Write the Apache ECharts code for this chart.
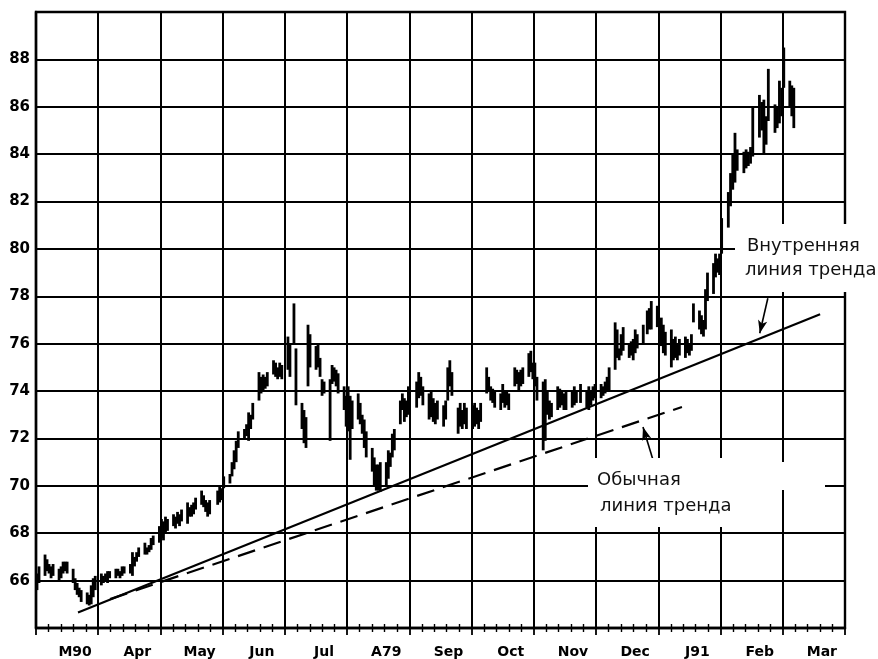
<!DOCTYPE html>
<html>
<head>
<meta charset="utf-8">
<title>Trend lines</title>
<script src="https://cdn.jsdelivr.net/npm/echarts@6/dist/echarts.min.js"></script>
<style>
  html, body { margin: 0; padding: 0; background: #fff; }
  #chart { width: 878px; height: 659px; }
</style>
</head>
<body>
<div id="chart"></div>
<script>
// month labels along the bottom, and month lengths used to place daily bars
const months = ['M90', 'Apr', 'May', 'Jun', 'Jul', 'A79', 'Sep', 'Oct', 'Nov', 'Dec', 'J91', 'Feb', 'Mar']
const monthDays = [31, 30, 31, 30, 31, 31, 30, 31, 30, 31, 31, 28, 31]

// daily bars per month: [day, low, high]
const mar90 = [[1, 65.6, 66.3], [2, 65.9, 66.6], [5, 66.2, 67.1], [6, 66.4, 66.9], [7, 66.3, 66.7], [8, 66.1, 66.6], [9, 66.2, 66.7], [12, 66.0, 66.5], [13, 66.1, 66.6], [14, 66.3, 66.8], [15, 66.4, 66.8], [16, 66.3, 66.8], [19, 65.9, 66.5], [20, 65.6, 66.1], [21, 65.4, 65.9], [22, 65.3, 65.7], [23, 65.1, 65.6], [26, 65.0, 65.5], [27, 64.95, 65.4], [28, 65.0, 65.8], [29, 65.3, 66.1], [30, 65.6, 66.2]]
const apr90 = [[2, 65.8, 66.3], [3, 65.9, 66.2], [4, 66.0, 66.3], [5, 65.9, 66.4], [6, 66.1, 66.4], [9, 66.1, 66.5], [10, 66.2, 66.5], [11, 66.1, 66.4], [12, 66.2, 66.6], [13, 66.3, 66.6], [16, 66.3, 66.7], [17, 66.2, 67.2], [18, 66.6, 67.0], [19, 66.8, 67.2], [20, 67.0, 67.4], [23, 67.1, 67.6], [24, 67.1, 67.4], [25, 67.2, 67.5], [26, 67.3, 67.8], [27, 67.5, 67.9], [30, 67.6, 68.3]]
const may90 = [[1, 67.8, 68.6], [2, 67.7, 68.5], [3, 68.0, 68.7], [4, 68.1, 68.6], [7, 68.3, 68.8], [8, 68.2, 68.7], [9, 68.4, 68.9], [10, 68.3, 68.8], [11, 68.5, 69.0], [14, 68.4, 69.3], [15, 68.7, 69.1], [16, 68.7, 69.2], [17, 68.8, 69.3], [18, 69.0, 69.5], [21, 69.2, 69.8], [22, 69.1, 69.6], [23, 68.9, 69.4], [24, 68.7, 69.3], [25, 68.8, 69.4], [29, 69.2, 69.8], [30, 69.3, 70.0], [31, 69.4, 69.9]]
const jun90 = [[1, 69.9, 70.4], [4, 70.1, 70.5], [5, 70.4, 71.0], [6, 70.7, 71.5], [7, 71.0, 71.9], [8, 71.6, 72.3], [11, 72.0, 72.4], [12, 72.1, 72.6], [13, 71.9, 73.1], [14, 72.4, 73.0], [15, 72.8, 73.5], [18, 73.6, 74.8], [19, 73.9, 74.6], [20, 74.0, 74.7], [21, 74.1, 74.6], [22, 74.2, 74.8], [25, 74.7, 75.3], [26, 74.6, 75.2], [27, 74.5, 75.0], [28, 74.6, 75.2], [29, 74.5, 75.1]]
const jul90 = [[2, 74.9, 76.3], [3, 74.6, 76.0], [5, 76.0, 77.7], [6, 73.4, 75.8], [9, 72.4, 73.5], [10, 71.8, 73.2], [11, 71.6, 72.9], [12, 74.2, 76.8], [13, 75.0, 76.4], [16, 74.9, 75.9], [17, 75.0, 76.0], [18, 74.6, 75.4], [19, 73.8, 74.5], [20, 73.9, 74.4], [23, 71.9, 74.5], [24, 74.3, 75.1], [25, 74.4, 75.0], [26, 74.2, 74.9], [27, 73.9, 74.75], [30, 73.2, 74.2], [31, 72.5, 73.8]]
const aug90 = [[1, 72.3, 74.2], [2, 71.1, 73.8], [3, 72.4, 73.6], [6, 72.8, 73.9], [7, 72.6, 73.5], [8, 72.2, 73.0], [9, 71.6, 72.8], [10, 71.2, 72.3], [13, 70.6, 71.6], [14, 70.0, 71.2], [15, 69.8, 70.9], [16, 69.8, 70.9], [17, 69.75, 71.0], [20, 70.0, 71.0], [21, 70.3, 71.5], [22, 70.8, 71.4], [23, 71.2, 72.2], [24, 71.5, 72.4], [27, 72.6, 73.6], [28, 73.2, 73.9], [29, 72.7, 73.7], [30, 72.9, 73.6], [31, 73.0, 74.2]]
const sep90 = [[4, 73.3, 74.4], [5, 73.7, 74.8], [6, 73.8, 74.6], [7, 73.4, 74.2], [10, 72.8, 73.9], [11, 72.9, 74.0], [12, 72.7, 73.7], [13, 72.6, 73.5], [14, 72.8, 73.6], [17, 72.5, 73.4], [18, 72.8, 73.6], [19, 73.6, 75.0], [20, 74.2, 75.3], [21, 73.8, 74.8], [24, 72.2, 73.3], [25, 72.5, 73.5], [26, 72.4, 73.2], [27, 72.6, 73.5], [28, 72.4, 73.3]]
const oct90 = [[1, 72.4, 73.4], [2, 72.5, 73.5], [3, 72.6, 73.3], [4, 72.4, 73.2], [5, 72.7, 73.5], [8, 73.9, 75.0], [9, 74.0, 74.6], [10, 73.6, 74.2], [11, 73.5, 74.1], [12, 73.3, 74.0], [15, 73.2, 73.9], [16, 73.5, 74.3], [17, 73.3, 74.0], [18, 73.4, 74.0], [19, 73.2, 73.9], [22, 74.2, 75.0], [23, 74.3, 74.9], [24, 74.0, 74.8], [25, 74.2, 74.9], [26, 74.3, 75.0], [29, 74.6, 75.6], [30, 74.8, 75.7], [31, 74.5, 75.2]]
const nov90 = [[1, 74.2, 75.2], [2, 73.6, 74.6], [5, 71.5, 74.4], [6, 71.9, 74.5], [7, 73.0, 74.0], [8, 72.8, 73.6], [9, 72.9, 73.5], [12, 73.2, 74.2], [13, 73.3, 74.1], [14, 73.4, 74.0], [15, 73.2, 73.9], [16, 73.2, 74.0], [19, 73.3, 74.0], [20, 73.4, 74.2], [21, 73.5, 74.0], [23, 73.5, 74.3], [26, 73.3, 74.0], [27, 73.2, 74.2], [28, 73.4, 74.0], [29, 73.6, 74.2], [30, 73.7, 74.3]]
const dec90 = [[3, 73.7, 74.3], [4, 73.8, 74.2], [5, 73.9, 74.4], [6, 74.0, 74.6], [7, 74.0, 75.0], [10, 74.9, 76.9], [11, 75.4, 76.6], [12, 75.3, 75.8], [13, 75.5, 76.4], [14, 75.7, 76.7], [17, 75.4, 76.0], [18, 75.5, 76.1], [19, 75.3, 76.2], [20, 75.6, 76.6], [21, 75.8, 76.4], [24, 76.0, 76.8], [26, 76.4, 77.4], [27, 76.6, 77.5], [28, 76.6, 77.8], [31, 76.7, 77.6]]
const jan91 = [[2, 75.9, 77.1], [3, 75.6, 76.8], [4, 75.5, 76.5], [7, 75.0, 76.6], [8, 75.3, 76.2], [9, 75.4, 76.3], [10, 75.3, 76.0], [11, 75.5, 76.2], [14, 75.4, 76.3], [15, 75.6, 76.2], [16, 75.5, 76.0], [17, 75.7, 76.4], [18, 76.9, 77.7], [21, 76.6, 77.4], [22, 76.4, 77.2], [23, 76.3, 77.0], [24, 76.6, 78.3], [25, 77.8, 79.0], [28, 78.1, 79.4], [29, 78.8, 79.8], [30, 79.0, 79.6], [31, 78.9, 79.8]]
const feb91 = [[1, 79.8, 81.3], [4, 80.9, 82.4], [5, 81.8, 83.2], [6, 82.5, 84.0], [7, 82.8, 84.9], [8, 83.3, 84.2], [11, 83.2, 84.1], [12, 83.4, 84.2], [13, 83.5, 84.1], [14, 83.6, 84.3], [15, 83.9, 86.0], [18, 84.7, 86.5], [19, 85.0, 86.2], [20, 84.0, 86.3], [21, 84.4, 85.6], [22, 85.4, 87.6], [25, 84.9, 86.1], [26, 85.1, 86.0], [27, 85.3, 87.1], [28, 85.6, 86.8]]
const mar91 = [[1, 86.8, 88.5], [4, 86.0, 87.1], [5, 85.6, 86.9], [6, 85.1, 86.8]]

// trend lines: [month position, price]
const innerTrend = [[0.675, 64.65], [12.6, 77.24]]
const normalTrend = [[1.19, 65.22], [10.38, 73.33]]
// arrows from the captions to the lines
const innerArrow = [[11.76, 77.92], [11.63, 76.44]]
const normalArrow = [[9.915, 71.09], [9.754, 72.48]]

const chart = echarts.init(document.getElementById('chart'))

const monthBars = [mar90, apr90, may90, jun90, jul90, aug90, sep90, oct90, nov90, dec90, jan91, feb91, mar91]
const barData = []
monthBars.forEach((list, m) => {
  list.forEach(([day, lo, hi]) => {
    barData.push([m + (day - 0.5) / monthDays[m], lo, hi])
  })
})

const font = '"DejaVu Sans", sans-serif'

const option = {
  animation: false,
  backgroundColor: '#fff',
  grid: {
    left: 36,
    right: 33,
    top: 12,
    bottom: 31,
    show: true,
    borderColor: '#000',
    borderWidth: 2.4,
    outerBoundsMode: 'none'
  },
  xAxis: [{
    type: 'value',
    min: 0,
    max: 13,
    interval: 1,
    axisLine: { show: true, lineStyle: { color: '#000', width: 2.4 } },
    axisTick: { show: true, length: 7, lineStyle: { color: '#000', width: 1.8 } },
    minorTick: { show: true, splitNumber: 5, length: 4, lineStyle: { color: '#000', width: 1.4 } },
    axisLabel: { show: false },
    splitLine: { show: true, lineStyle: { color: '#000', width: 2 } }
  }, {
    type: 'value',
    min: 0,
    max: 13,
    interval: 1,
    position: 'bottom',
    axisLine: { show: false },
    axisTick: { show: true, inside: true, length: 6, lineStyle: { color: '#000', width: 1.8 } },
    minorTick: { show: true, splitNumber: 5, length: 4, lineStyle: { color: '#000', width: 1.4 } },
    axisLabel: { show: false },
    splitLine: { show: false }
  }, {
    type: 'category',
    data: months,
    position: 'bottom',
    boundaryGap: true,
    axisLine: { show: false },
    axisTick: { show: false },
    splitLine: { show: false },
    axisLabel: {
      color: '#000',
      fontFamily: font,
      fontWeight: 'bold',
      fontSize: 14,
      margin: 17,
      padding: [0, 0, 0, 16]
    }
  }],
  yAxis: {
    type: 'value',
    min: 64,
    max: 90,
    interval: 2,
    axisLine: { show: true, lineStyle: { color: '#000', width: 2.4 } },
    axisTick: { show: false },
    axisLabel: {
      formatter: v => (v === 64 || v === 90) ? '' : v,
      color: '#000',
      fontFamily: font,
      fontWeight: 'bold',
      fontSize: 15,
      margin: 6
    },
    splitLine: { show: true, lineStyle: { color: '#000', width: 2 } }
  },
  graphic: [
    { type: 'rect', z: 10, shape: { x: 735, y: 224, width: 143, height: 68 }, style: { fill: '#fff' } },
    { type: 'rect', z: 10, shape: { x: 588, y: 458, width: 157, height: 69 }, style: { fill: '#fff' } },
    { type: 'rect', z: 10, shape: { x: 745, y: 462, width: 80, height: 28 }, style: { fill: '#fff' } },
    { type: 'text', z: 11, x: 747, y: 246, style: { text: 'Внутренняя', font: '18px ' + font, fill: '#111', verticalAlign: 'middle' } },
    { type: 'text', z: 11, x: 745, y: 270, style: { text: 'линия тренда', font: '18px ' + font, fill: '#111', verticalAlign: 'middle' } },
    { type: 'text', z: 11, x: 597, y: 480, style: { text: 'Обычная', font: '18px ' + font, fill: '#111', verticalAlign: 'middle' } },
    { type: 'text', z: 11, x: 600, y: 506, style: { text: 'линия тренда', font: '18px ' + font, fill: '#111', verticalAlign: 'middle' } }
  ],
  series: [{
    type: 'custom',
    z: 20,
    encode: { x: 0, y: [1, 2] },
    renderItem (params, api) {
      const top = api.coord([api.value(0), api.value(2)])
      const bot = api.coord([api.value(0), api.value(1)])
      return {
        type: 'line',
        shape: { x1: top[0], y1: top[1], x2: bot[0], y2: bot[1] },
        style: { stroke: '#000', lineWidth: 2.8 }
      }
    },
    data: barData
  }, {
    type: 'line',
    z: 21,
    symbol: 'none',
    lineStyle: { color: '#000', width: 2.2 },
    data: innerTrend,
    markLine: {
      silent: true,
      symbol: ['none', 'arrow'],
      symbolSize: [7, 13],
      label: { show: false },
      lineStyle: { color: '#000', width: 1.6, type: 'solid' },
      data: [
        [{ coord: innerArrow[0] }, { coord: innerArrow[1] }],
        [{ coord: normalArrow[0] }, { coord: normalArrow[1] }]
      ]
    }
  }, {
    type: 'line',
    z: 21,
    symbol: 'none',
    lineStyle: { color: '#000', width: 2.2, type: [18, 9] },
    data: normalTrend
  }]
}

chart.setOption(option)
window.addEventListener('resize', () => chart.resize())
</script>
</body>
</html>
